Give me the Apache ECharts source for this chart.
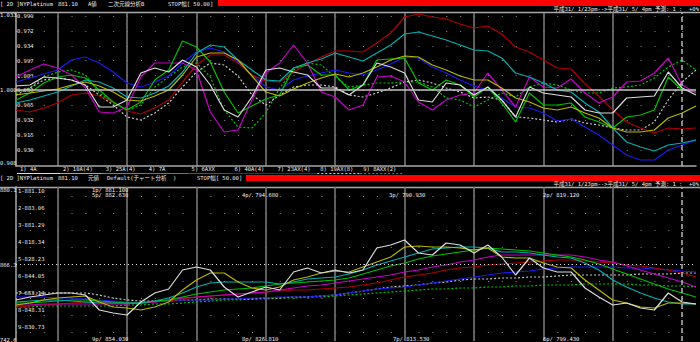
<!DOCTYPE html>
<html><head><meta charset="utf-8">
<style>html,body{margin:0;padding:0;background:#000;}#c{width:700px;height:342px;}</style>
<script src="https://cdn.jsdelivr.net/npm/echarts@6/dist/echarts.min.js"></script>
</head><body><div id="c"></div>
<script>
// ---------- categories (periods) ----------
const periods = ['1','2','3','4','5','6','7','8','9','10','11','12','13','14','15','16','17','18','19','20',
'21','22','23','24','25','26','27','28','29','30','31','32','33','34','35','36','37','38','39','40',
'41','42','43','44','45','46','47','48','49','50'];

// ---------- series names ----------
const seriesNames = ['1) 4A','2) 10A(4)','3) 25A(4)','4) 7A','5) 6AXX','6) 40A(4)','7) 23AX(4)','8) 19AX(8)','9) 8AXX(2)'];

// ---------- top panel: A-value (二次元線分析B) ----------
const a4A   = [1.007,1.009,1.025,1.023,1.019,1.009,0.965,0.965,0.979,1.033,1.043,1.035,1.059,1.045,1.009,0.959,0.945,0.985,1.039,1.043,1.035,1.029,1.003,1.003,0.989,1.009,1.053,1.045,1.033,0.979,0.975,1.013,1.009,0.989,1.005,0.979,0.945,1.005,0.993,0.989,0.985,0.959,0.953,0.953,0.983,0.985,0.987,1.035,1.003,0.989];
const a10A  = [0.989,0.993,0.997,1.001,1.009,1.015,1.007,0.995,0.979,0.977,0.987,0.999,1.029,1.065,1.073,1.073,1.059,1.027,0.995,0.987,1.001,1.013,1.023,1.031,1.025,1.033,1.045,1.059,1.067,1.065,1.049,1.039,1.027,1.019,1.019,1.003,0.983,0.975,0.963,0.959,0.965,0.953,0.943,0.923,0.915,0.915,0.919,0.943,0.953,0.967];
const a25A  = [0.973,0.979,0.987,0.995,1.007,1.019,1.015,1.003,0.985,0.983,0.993,1.007,1.035,1.073,1.089,1.085,1.059,1.039,1.019,1.017,1.043,1.053,1.061,1.073,1.065,1.057,1.073,1.089,1.111,1.115,1.107,1.099,1.089,1.079,1.077,1.063,1.033,1.025,1.013,0.999,0.995,0.973,0.955,0.923,0.895,0.885,0.877,0.889,0.893,0.899];
const a7A   = [0.979,0.993,1.013,1.025,1.029,1.023,0.999,0.975,0.959,0.975,1.019,1.039,1.097,1.085,1.055,0.995,0.953,0.967,0.981,0.989,1.043,1.049,1.029,1.029,0.999,1.009,1.059,1.061,1.063,1.013,0.999,1.019,1.009,0.985,1.005,0.973,0.935,0.993,0.969,0.969,0.973,0.945,0.935,0.923,0.945,0.949,0.959,1.025,0.999,0.995];
const a6AXX = [1.025,1.039,1.051,1.043,1.029,1.003,0.955,0.953,0.965,1.025,1.053,1.053,1.053,1.039,0.955,0.915,0.919,0.979,1.033,1.053,1.089,1.053,0.995,0.985,0.959,0.969,1.025,1.027,1.015,0.975,0.959,0.979,0.989,0.993,1.033,0.999,0.965,1.025,1.005,1.003,1.021,0.993,0.973,0.985,1.015,1.017,1.033,1.063,1.009,0.993];
const a40A  = [0.959,0.955,0.963,0.973,0.989,0.993,0.987,0.975,0.957,0.951,0.963,0.979,1.015,1.049,1.069,1.069,1.053,1.029,1.017,1.015,1.035,1.051,1.065,1.077,1.077,1.075,1.093,1.113,1.145,1.151,1.145,1.141,1.131,1.123,1.127,1.111,1.085,1.075,1.059,1.043,1.041,1.011,0.987,0.959,0.935,0.923,0.913,0.923,0.921,0.923];
const a23AX = [1.015,1.023,1.031,1.039,1.059,1.065,1.053,1.035,1.013,1.005,1.015,1.027,1.053,1.075,1.083,1.075,1.055,1.029,1.005,0.999,1.019,1.027,1.033,1.039,1.033,1.029,1.039,1.051,1.065,1.063,1.045,1.033,1.019,1.007,0.999,0.983,0.965,0.963,0.953,0.937,0.941,0.925,0.909,0.889,0.869,0.859,0.859,0.879,0.889,0.899];
const a19AX = [0.989,1.003,1.019,1.023,1.019,1.009,0.989,0.969,0.945,0.939,0.953,0.973,1.005,1.035,1.053,1.049,1.027,0.989,0.969,0.989,1.005,1.009,1.009,1.005,0.989,0.985,0.993,1.003,1.015,1.019,1.013,1.003,0.995,0.983,0.985,0.979,0.945,0.943,0.939,0.935,0.941,0.933,0.929,0.923,0.919,0.919,0.935,0.979,1.015,1.039];
const a8AXX = [0.995,1.003,1.025,1.035,1.039,1.029,0.993,0.973,0.959,0.969,1.005,1.025,1.045,1.053,1.025,0.959,0.925,0.923,0.953,1.003,1.039,1.053,1.049,1.025,1.005,1.009,1.013,1.013,1.015,1.015,1.005,0.983,0.979,0.965,0.979,0.993,0.985,1.005,1.013,1.009,0.999,0.993,0.993,1.003,1.005,1.009,1.023,1.045,1.059,1.039];

// ---------- bottom panel: 元値 (price and averages) ----------
const p4A   = [781,784,786,788,788,786,771,768,766,779,788,792,811,814,811,794,784,789,794,791,809,813,808,811,808,811,833,836,841,828,826,838,836,828,836,824,806,823,813,809,809,793,784,776,778,773,771,788,779,777];
const p10A  = [776,778,781,783,784,785,779,774,773,771,774,779,791,801,808,808,799,793,791,794,801,804,808,810,809,814,819,824,834,835,834,834,833,831,833,824,823,823,818,814,813,801,791,781,778,774,773,778,778,777];
const p25A  = [779,780,781,781,780,779,778,778,778,778,780,783,788,794,798,799,799,799,799,797,799,802,803,804,807,811,816,820,824,828,832,833,834,834,833,829,829,828,826,824,823,818,811,801,794,788,783,779,777,777];
const p7A   = [778,778,779,780,781,781,780,779,778,778,780,781,784,787,789,791,792,793,795,797,798,799,800,801,803,807,811,815,818,822,825,827,829,831,833,832,831,830,828,826,824,821,817,812,807,802,797,792,788,784];
const p6AXX = [776,776,777,777,777,777,777,777,777,778,779,781,783,784,785,786,787,788,789,791,793,795,796,798,800,802,804,806,809,811,814,816,819,821,824,826,826,826,826,826,826,824,821,819,815,811,807,803,799,794];
const p40A  = [774,775,776,777,778,779,779,778,778,778,779,780,782,784,785,786,787,788,789,790,791,791,792,793,794,796,798,801,804,806,808,811,813,814,816,817,818,819,820,821,821,820,819,818,816,815,813,811,808,804];
const p23AX = [784,784,784,783,783,782,781,780,779,778,779,780,781,781,781,782,782,783,783,784,784,784,785,786,788,790,792,793,794,796,798,800,802,804,806,808,809,810,812,813,814,814,814,814,813,813,812,811,810,809];
const p19AX = [788,788,788,788,788,788,786,783,781,780,780,780,781,781,782,782,782,782,783,783,784,784,785,786,788,790,792,794,795,796,798,799,801,802,802,803,803,804,804,805,806,806,806,806,806,807,807,807,808,808];
const p8AXX = [774,774,775,775,775,775,775,775,776,776,777,777,778,779,780,781,781,782,782,783,783,784,784,785,786,787,788,789,790,791,792,792,793,793,794,794,795,795,796,796,796,797,797,797,797,796,796,795,795,794];
const priceRefLine = 817;

// ---------- tick / label texts ----------
const topRowLabels   = ['0.999','0.972','0.934','0.997','1.003','0.981','0.965','0.932','0.915','0.930'];
const topOuterLabels = ['1.033','1.000','0.908'];
const botRowLabels   = ['1-881.10','2-883.06','3-881.29','4-818.34','5-828.23','6-844.05','7-853.14','8-848.31','9-830.73'];
const botOuterLabels = ['880.1','866.3','742.6'];
const topNotes = ['1p/ 881.100','5p/ 882.630','4p/ 794.680','3p/ 790.930','2p/ 819.120'];
const botNotes = ['9p/ 854.030','8p/ 826.810','7p/ 813.530','6p/ 799.430'];
const header1 = ['[ 2D ]NYPlatinum','881.10','A値','二次元線分析B','STOP幅[ 50.00]'];
const header2 = ['[ 2D ]NYPlatinum','881.10','元値','Default(チャート分析  )','STOP幅[ 50.00]'];
const periodText = '平成31/ 1/23pm-->平成31/ 5/ 4pm 予測: 1 :  +0%';

// ---------- styling / layout ----------
const FONT = "'DejaVu Sans Mono','Noto Sans CJK JP',monospace";
const FS = 5.5;
const TXT = '#ececec';
const colors = ['#dcdcdc','#b8b800','#00b0b0','#00c000','#c800c8','#b00000','#1a1af0','#c8c8c8','#00c400'];
const dotted = [false,false,false,false,false,false,false,true,true];
const topSets = [a4A,a10A,a25A,a7A,a6AXX,a40A,a23AX,a19AX,a8AXX];
const botSets = [p4A,p10A,p25A,p7A,p6AXX,p40A,p23AX,p19AX,p8AXX];
const drawOrder = [8,7,6,5,4,3,2,1,0];

const series = [];
drawOrder.forEach(k => {
  [[topSets,0],[botSets,1]].forEach(([sets,gi]) => {
    series.push({
      type:'line', name: seriesNames[k], xAxisIndex:gi, yAxisIndex:gi,
      data: sets[k], symbol:'none', silent:true,
      lineStyle:{color:colors[k], width:1.2, type: dotted[k] ? [2,2] : 'solid'},
      z: 3
    });
  });
});
// reference lines
series.push({
  type:'line', xAxisIndex:0, yAxisIndex:0, data:[], symbol:'none',
  markLine:{silent:true, symbol:['none','none'], label:{show:false}, animation:false,
    data:[
      {yAxis:1.0, lineStyle:{color:'#c4c4c4', type:'solid', width:1.5}},
      {xAxis:periods[48], lineStyle:{color:'#b8b8b8', type:[5,3], width:1.5}}
    ]}, z:2
});
series.push({
  type:'line', xAxisIndex:1, yAxisIndex:1, data:[], symbol:'none',
  markLine:{silent:true, symbol:['none','none'], label:{show:false}, animation:false,
    data:[
      {yAxis:priceRefLine, lineStyle:{color:'#e0e0e0', type:[1,3], width:1}},
      {xAxis:periods[48], lineStyle:{color:'#b8b8b8', type:[5,3], width:1.5}}
    ]}, z:2
});

const vSplit = {show:true, interval:(i)=> i%5===3 && i<48, lineStyle:{color:'#767676', width:1.6}};
const dotRow = {show:true, lineStyle:{color:'#8c8c8c', width:1, type:[1,12.88]}};
const border = {show:true, lineStyle:{color:'#a8a8a8', width:1.5}};

function txt(text, x, y, extra){
  return Object.assign({type:'text', x, y, silent:true, z:10,
    style:{text, fill:TXT, fontSize:FS, fontFamily:FONT, verticalAlign:'middle', align:'left'}}, extra||{});
}
const graphic = [];
graphic.push({type:'rect', shape:{x:218,y:0,width:482,height:6}, style:{fill:'#ff0000'}, silent:true});
graphic.push({type:'rect', shape:{x:246,y:175,width:454,height:6}, style:{fill:'#ff0000'}, silent:true});
graphic.push({type:'line', shape:{x1:0,y1:12.5,x2:700,y2:12.5}, style:{stroke:'#a8a8a8', lineWidth:1.5}, silent:true});
graphic.push({type:'line', shape:{x1:0,y1:187.5,x2:700,y2:187.5}, style:{stroke:'#a8a8a8', lineWidth:1.5}, silent:true});
const h1x = [0,58,88,108,168], h2x = [0,58,88,107,197];
header1.forEach((t,i)=>graphic.push(txt(t,h1x[i],4)));
header2.forEach((t,i)=>graphic.push(txt(t,h2x[i],178)));
graphic.push(txt(periodText,699,8.5,{style:{text:periodText,fill:TXT,fontSize:FS,fontFamily:FONT,verticalAlign:'middle',align:'right'}}));
graphic.push(txt(periodText,699,183.5,{style:{text:periodText,fill:TXT,fontSize:FS,fontFamily:FONT,verticalAlign:'middle',align:'right'}}));
const topOuterY = [15,90,163], botOuterY = [190,265,340];
topOuterLabels.forEach((t,i)=>graphic.push(txt(t,0,topOuterY[i])));
botOuterLabels.forEach((t,i)=>graphic.push(txt(t,0,botOuterY[i])));
const topNoteXY = [[92,189.5],[92,195],[242,195],[389,195],[543,195]];
const botNoteXY = [[92,338.5],[242,338.5],[393,338.5],[543,338.5]];
topNotes.forEach((t,i)=>graphic.push(txt(t,topNoteXY[i][0],topNoteXY[i][1])));
botNotes.forEach((t,i)=>graphic.push(txt(t,botNoteXY[i][0],botNoteXY[i][1])));
seriesNames.forEach((t,k)=>{
  const x = 20 + 42.9*k;
  graphic.push(txt(t,x,169));
  graphic.push({type:'line', shape:{x1:x-3,y1:173.5,x2:x+40,y2:173.5}, silent:true,
    style:{stroke:colors[k], lineWidth:1.2, lineDash: dotted[k] ? [2,2] : null}});
});

const option = {
  backgroundColor:'#000', animation:false,
  grid:[
    {left:16, right:4, top:13, height:153},
    {left:16, right:4, top:187, height:154},
    {left:16, right:4, top:16, height:134},
    {left:16, right:4, top:196, height:136}
  ],
  xAxis:[
    {gridIndex:0, type:'category', data:periods, boundaryGap:false, axisLine:border, axisTick:{show:false}, axisLabel:{show:false}, splitLine:vSplit},
    {gridIndex:1, type:'category', data:periods, boundaryGap:false, axisLine:{show:false}, axisTick:{show:false}, axisLabel:{show:false}, splitLine:vSplit},
    {gridIndex:2, type:'value', min:0, max:1, show:false},
    {gridIndex:3, type:'value', min:0, max:1, show:false}
  ],
  yAxis:[
    {gridIndex:0, type:'value', min:0.847, max:1.153, axisLine:border, axisTick:{show:false}, axisLabel:{show:false}, splitLine:{show:false}},
    {gridIndex:1, type:'value', min:740, max:894, axisLine:border, axisTick:{show:false}, axisLabel:{show:false}, splitLine:{show:false}},
    {gridIndex:2, type:'value', min:0, max:9, interval:1, inverse:true, axisLine:{show:false}, axisTick:{show:false},
      axisLabel:{inside:true, margin:1, color:TXT, fontSize:FS, fontFamily:FONT, verticalAlign:'middle', formatter:(v)=>topRowLabels[v]||''},
      splitLine:dotRow},
    {gridIndex:3, type:'value', min:0, max:8, interval:1, inverse:true, axisLine:{show:false}, axisTick:{show:false},
      axisLabel:{inside:true, margin:2, color:TXT, fontSize:FS, fontFamily:FONT, verticalAlign:'bottom', padding:[0,0,2,0], formatter:(v)=>botRowLabels[v]||''},
      splitLine:dotRow}
  ],
  series, graphic
};
const chart = echarts.init(document.getElementById('c'), null, {renderer:'svg'});
chart.setOption(option);
</script></body></html>
